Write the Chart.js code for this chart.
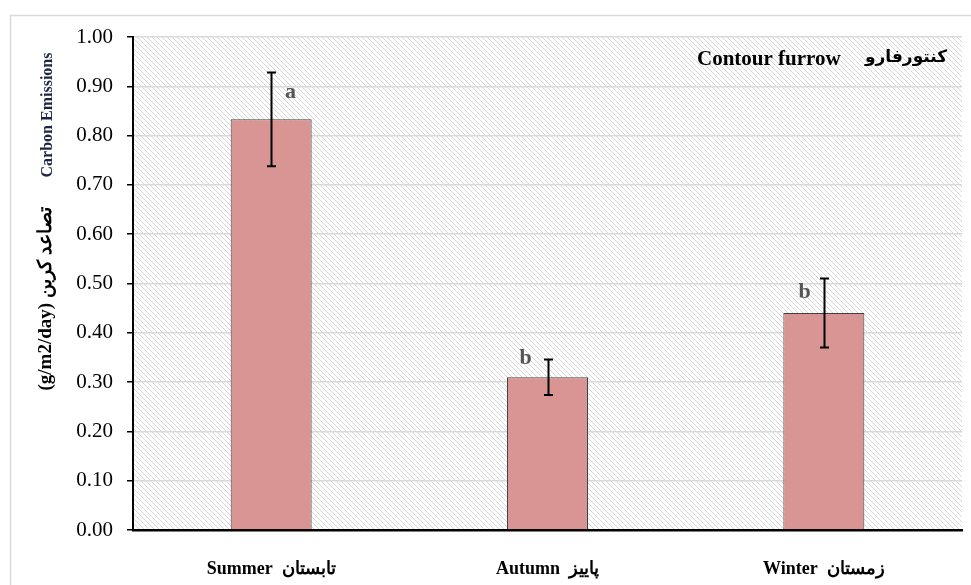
<!DOCTYPE html>
<html>
<head>
<meta charset="utf-8">
<script src="https://cdn.jsdelivr.net/npm/chart.js@4/dist/chart.umd.min.js"></script>
<style>
  html, body { margin: 0; padding: 0; background: #fff; }
  #wrap { width: 971px; height: 585px; position: relative; }
</style>
</head>
<body>
<div id="wrap"><canvas id="c" width="971" height="585"></canvas></div>
<script>
// Seasonal carbon emission under contour furrow irrigation
const seasons = ['Summer  تابستان', 'Autumn  پاییز', 'Winter  زمستان'];
const emission = [0.833, 0.310, 0.440];       // g/m2/day
const errorSize = [0.095, 0.036, 0.070];      // ± error
const groupLetters = ['a', 'b', 'b'];
const yTicks = [0, 0.1, 0.2, 0.3, 0.4, 0.5, 0.6, 0.7, 0.8, 0.9, 1.0];

const SERIF = '"Liberation Serif", "Times New Roman", "DejaVu Serif", serif';

// diagonal hatch for the plot background
function makeHatch() {
  const t = document.createElement('canvas');
  t.width = 5; t.height = 5;
  const g = t.getContext('2d');
  g.fillStyle = '#ffffff';
  g.fillRect(0, 0, 5, 5);
  g.strokeStyle = '#d6d6d6';
  g.lineWidth = 1;
  for (let k = -1; k <= 1; k++) {
    g.beginPath();
    g.moveTo(k * 5 - 1, -1);
    g.lineTo(k * 5 + 6, 6);
    g.stroke();
  }
  return g.createPattern(t, 'repeat');
}

const backgroundPlugin = {
  id: 'background',
  beforeDraw(chart) {
    const { ctx, chartArea: a } = chart;
    ctx.save();
    ctx.fillStyle = '#fff';
    ctx.fillRect(0, 0, chart.width, chart.height);
    ctx.strokeStyle = '#d9d9d9';
    ctx.lineWidth = 1.5;
    ctx.strokeRect(10.5, 15.5, chart.width + 20, chart.height + 20);
    ctx.fillStyle = makeHatch();
    ctx.fillRect(a.left, a.top, a.right - a.left, a.bottom - a.top);
    ctx.restore();
  }
};

// error bars, significance letters, titles
const letterOffset = [[19, 20], [-23, -1], [-20, 14]];
const annotationPlugin = {
  id: 'annotations',
  afterDatasetsDraw(chart) {
    const { ctx } = chart;
    const y = chart.scales.y;
    const meta = chart.getDatasetMeta(0);
    ctx.save();
    ctx.strokeStyle = '#000';
    ctx.lineWidth = 2;
    meta.data.forEach((bar, i) => {
      const top = y.getPixelForValue(emission[i] + errorSize[i]);
      const bot = y.getPixelForValue(emission[i] - errorSize[i]);
      const x = Math.round(bar.x) + 0.5;
      ctx.beginPath();
      ctx.moveTo(x, top); ctx.lineTo(x, bot);
      ctx.moveTo(x - 4.5, top); ctx.lineTo(x + 4.5, top);
      ctx.moveTo(x - 4.5, bot); ctx.lineTo(x + 4.5, bot);
      ctx.stroke();
      ctx.fillStyle = '#555';
      ctx.font = 'bold 22px ' + SERIF;
      ctx.textAlign = 'center';
      ctx.textBaseline = 'middle';
      ctx.fillText(groupLetters[i], x + letterOffset[i][0], top + letterOffset[i][1]);
    });

    // panel title
    ctx.fillStyle = '#000';
    ctx.textBaseline = 'middle';
    ctx.textAlign = 'left';
    ctx.font = 'bold 21px ' + SERIF;
    ctx.fillText('Contour furrow', 697, 60);
    ctx.font = 'bold 17px "DejaVu Sans", "Noto Sans", sans-serif';
    ctx.fillText('کنتورفارو', 865, 58);

    // y axis title (rotated)
    ctx.translate(46, 299);
    ctx.rotate(-Math.PI / 2);
    ctx.textAlign = 'center';
    ctx.font = 'bold 19px ' + SERIF;
    ctx.fillStyle = '#000';
    ctx.fillText('(g/m2/day) تصاعد کربن', 0, 0);
    ctx.font = 'bold 16px ' + SERIF;
    ctx.fillStyle = '#1c2442';
    ctx.fillText('Carbon Emissions', 184, 2);
    ctx.restore();
  }
};

new Chart(document.getElementById('c'), {
  type: 'bar',
  data: {
    labels: seasons,
    datasets: [{
      data: emission,
      backgroundColor: '#d99593',
      borderColor: '#404040',
      borderWidth: 1,
      categoryPercentage: 1,
      barPercentage: 0.293
    }]
  },
  options: {
    responsive: false,
    animation: false,
    events: [],
    layout: { padding: { top: 37, right: 9, left: 0, bottom: 0 } },
    plugins: { legend: { display: false }, tooltip: { enabled: false } },
    scales: {
      x: {
        afterFit(s) { s.height = 55; },
        grid: { display: false },
        border: { display: true, color: '#000', width: 2.5 },
        ticks: {
          color: '#000',
          padding: 21,
          font: { family: SERIF, size: 18, weight: 'bold' }
        }
      },
      y: {
        min: 0, max: 1,
        afterFit(s) { s.width = 133; },
        afterBuildTicks(s) { s.ticks = yTicks.map(v => ({ value: v })); },
        grid: { color: '#d9d9d9', lineWidth: 1.5, tickColor: '#000', tickLength: 6, tickWidth: 1.5 },
        border: { display: true, color: '#000', width: 2 },
        ticks: {
          color: '#000',
          padding: 14,
          font: { family: SERIF, size: 21 },
          callback: v => Number(v).toFixed(2)
        }
      }
    }
  },
  plugins: [backgroundPlugin, annotationPlugin]
});
</script>
</body>
</html>
